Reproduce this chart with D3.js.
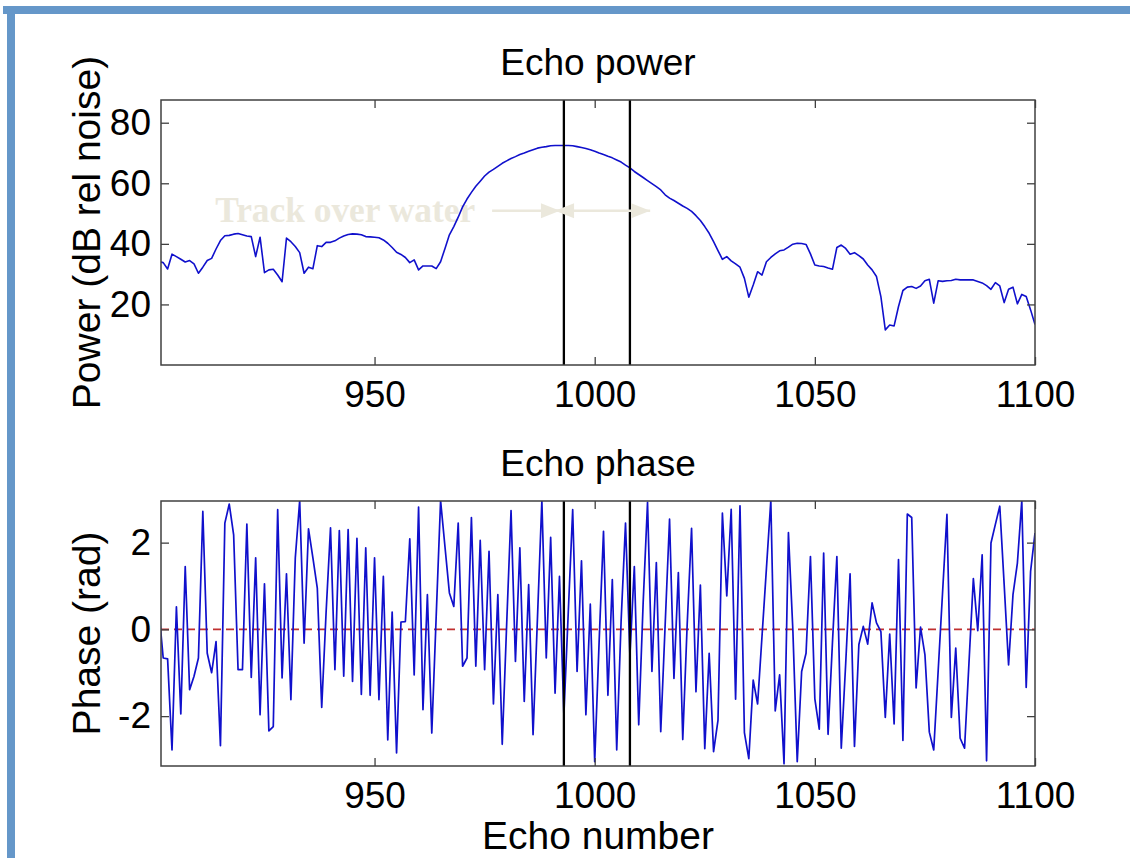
<!DOCTYPE html>
<html>
<head>
<meta charset="utf-8">
<script src="https://cdn.jsdelivr.net/npm/d3@7"></script>
<style>
  body { margin: 0; background: #fff; }
</style>
</head>
<body>
<script>

// echo numbers along x
const echoNumbers = d3.range(901, 1101)

// Echo power, dB relative to noise
const powerDb = [
  34.1, 33.8, 31.7, 36.6, 35.8, 34.9, 34.0, 34.5, 33.4, 30.3,
  32.3, 34.5, 35.2, 38.3, 41.1, 42.7, 42.8, 43.2, 43.4, 43.0,
  42.6, 42.4, 35.8, 42.2, 30.5, 31.4, 31.6, 29.7, 27.5, 41.9,
  40.7, 39.1, 37.1, 30.3, 32.3, 31.8, 39.4, 39.1, 40.5, 40.5,
  41.0, 41.9, 42.6, 43.1, 43.3, 43.2, 43.0, 42.4, 42.3, 42.2,
  42.0, 41.3, 40.2, 38.8, 37.2, 36.5, 35.5, 33.8, 34.7, 31.4,
  32.7, 32.7, 32.7, 31.8, 34.1, 38.5, 43.0, 45.7, 48.8, 52.2,
  54.8, 57.0, 59.0, 60.7, 62.4, 63.7, 64.6, 65.6, 66.6, 67.4,
  68.2, 68.8, 69.5, 70.0, 70.6, 71.1, 71.6, 71.9, 72.1, 72.4,
  72.5, 72.5, 72.5, 72.5, 72.4, 72.1, 71.8, 71.5, 71.1, 70.6,
  70.0, 69.5, 68.9, 68.4, 67.7, 67.0, 66.0, 65.1, 63.9, 62.9,
  61.9, 60.9, 59.9, 58.9, 57.8, 56.2, 55.1, 54.3, 53.4, 52.5,
  51.7, 50.7, 49.3, 47.7, 45.7, 43.5, 40.7, 37.8, 34.9, 35.8,
  34.4, 33.4, 32.3, 28.6, 22.4, 26.4, 30.8, 29.7, 34.1, 35.5,
  36.7, 37.7, 38.0, 38.9, 39.9, 40.2, 40.1, 39.8, 36.7, 33.0,
  32.7, 32.5, 32.0, 31.6, 38.8, 39.6, 38.5, 36.6, 37.1, 36.1,
  35.0, 33.0, 31.4, 29.2, 22.6, 11.6, 13.2, 12.9, 19.3, 24.6,
  25.7, 25.9, 25.3, 26.1, 27.8, 28.3, 20.4, 27.8, 27.6, 27.8,
  27.9, 28.3, 28.1, 28.1, 28.1, 28.1, 27.6, 27.1, 26.2, 25.0,
  27.2, 26.1, 20.6, 25.0, 25.7, 20.2, 23.3, 22.6, 18.2, 13.4
]

// Echo phase, rad
const phaseRad = [
  0.45, -0.66, -0.68, -2.78, 0.52, -1.95, 1.45, -1.39, -1.08, -0.66,
  2.72, -0.55, -1.0, -0.28, -2.68, 2.45, 2.89, 2.18, -0.93, -0.93,
  2.43, -1.11, 1.65, -1.97, 1.05, -2.34, -2.24, 2.76, -1.12, 1.28,
  -1.62, 1.65, 2.97, -0.32, 2.32, 1.65, 0.95, -1.8, 0.4, 2.34,
  -0.93, 2.28, -1.08, 2.3, -1.2, 2.1, -1.5, 1.88, -1.52, 1.65,
  -1.62, 1.22, -2.55, 0.4, -2.85, 0.17, 0.18, 2.09, -1.05, 2.82,
  -1.85, 0.8, -2.39, 0.3, 2.97, 1.9, 0.84, 0.53, 2.45, -0.85,
  -0.66, 2.58, -0.85, 2.05, -0.93, 1.8, -1.72, 0.8, -2.65, 0.1,
  2.74, -0.74, 1.88, -1.66, 1.03, -2.43, 0.26, 2.97, -0.66, 2.12,
  -1.47, 1.22, -1.97, 0.4, 2.76, -0.97, 1.58, -1.97, 0.58, -3.05,
  -0.3, 2.26, -1.52, 1.15, -2.78, 0.2, 2.45, -0.6, 1.45, -2.2,
  0.6, 2.93, -0.97, 1.54, -2.36, 0.1, 2.54, -1.13, 1.31, -2.54,
  0.1, 2.33, -1.44, 1.02, -2.75, -0.55, -2.82, -2.1, 2.68, 0.77,
  2.77, -1.61, 2.85, -2.38, -2.98, -1.17, -1.72, -0.16, 1.4, 2.97,
  -1.88, -1.05, -3.1, 2.23, 0, -3.05, -0.97, -0.55, 1.68, -1.6,
  -2.3, 1.76, -2.42, -0.3, 1.68, -2.74, -0.8, 1.28, -2.7, -0.35,
  0.07, -0.34, 0.61, 0.15, -0.05, -2.03, -0.11, -2.18, 1.61, -2.56,
  2.66, 2.58, -1.35, 0.05, -0.58, -2.37, -2.78, -0.97, 0.84, 2.65,
  -2.03, -0.43, -2.51, -2.74, -0.78, 1.17, -0.03, 1.72, -3.03, 1.99,
  2.42, 2.84, 1.03, -0.82, 0.8, 1.53, 2.97, -1.34, 1.34, 2.22
]

const markerEchoes = [993, 1008]
const xTicks = [950, 1000, 1050, 1100]
const powerTicks = [20, 40, 60, 80]
const phaseTicks = [-2, 0, 2]
const phaseRef = [0]

// annotation on the power panel
const trackLabel = 'Track over water'
const trackLabelAt = [913.8, 47.3]
const trackArrows = [
  { from: 976.7, to: 992.1, db: 50.9, heads: ['end'] },
  { from: 991.0, to: 1012.6, db: 50.9, heads: ['start', 'end'] }
]

const W = 1130, H = 858
const fs = 37      // ticks, titles
const fsLabel = 39 // axis labels
const sans = '"Liberation Sans", Arial, Helvetica, sans-serif'
const serif = '"Liberation Serif", "Times New Roman", serif'
const left = 161, right = 1035
const frameBlue = '#6597c9'
const lineBlue = '#1010cc'
const beige = '#ebe8dc'

let svg = d3.select('body').append('svg')
  .attr('width', W)
  .attr('height', H)
  .style('font-family', sans)

svg.append('rect').attr('width', W).attr('height', H).attr('fill', '#fff')

// slide border
svg.append('rect').attr('x', 3).attr('y', 6).attr('width', W - 3).attr('height', 8).attr('fill', frameBlue)
svg.append('rect').attr('x', 7).attr('y', 6).attr('width', 8).attr('height', H - 6).attr('fill', frameBlue)

let x = d3.scaleLinear().domain([901.5, 1100]).range([left, right])

function panel(top, bottom, y, values, yTicks, title, ylabel, id, lw) {
  let g = svg.append('g')

  g.append('clipPath').attr('id', id)
    .append('rect').attr('x', left).attr('y', top)
    .attr('width', right - left).attr('height', bottom - top)

  let body = g.append('g').attr('clip-path', `url(#${id})`)

  let line = d3.line()
    .x((d, i) => x(echoNumbers[i]))
    .y(d => y(d))

  return { g, body, draw: () => {
    body.append('path')
      .datum(values)
      .attr('d', line)
      .attr('fill', 'none')
      .attr('stroke', lineBlue)
      .attr('stroke-width', lw)
      .attr('stroke-linejoin', 'round')

    body.selectAll('.marker').data(markerEchoes).enter()
      .append('line')
      .attr('x1', d => x(d)).attr('x2', d => x(d))
      .attr('y1', top).attr('y2', bottom)
      .attr('stroke', '#000')
      .attr('stroke-width', 2.3)

    // axes: ticks point inwards on all four sides
    let fmt = d => String(d)
    g.append('g').attr('transform', `translate(0,${bottom})`)
      .call(d3.axisBottom(x).tickValues(xTicks).tickSizeInner(-8).tickSizeOuter(0).tickPadding(16).tickFormat(fmt))
    g.append('g').attr('transform', `translate(0,${top})`)
      .call(d3.axisTop(x).tickValues(xTicks).tickSizeInner(-8).tickSizeOuter(0).tickFormat(''))
    g.append('g').attr('transform', `translate(${left},0)`)
      .call(d3.axisLeft(y).tickValues(yTicks).tickSizeInner(-8).tickSizeOuter(0).tickPadding(10).tickFormat(fmt))
    g.append('g').attr('transform', `translate(${right},0)`)
      .call(d3.axisRight(y).tickValues(yTicks).tickSizeInner(-8).tickSizeOuter(0).tickFormat(''))

    g.selectAll('.domain').remove()
    g.selectAll('.tick line').attr('stroke', '#404040').attr('stroke-width', 1.3)
    g.selectAll('.tick text')
      .attr('fill', '#000')
      .attr('font-size', fs)
      .attr('font-family', sans)

    g.append('rect')
      .attr('x', left).attr('y', top)
      .attr('width', right - left).attr('height', bottom - top)
      .attr('fill', 'none')
      .attr('stroke', '#404040')
      .attr('stroke-width', 1.5)

    g.append('text')
      .attr('x', (left + right) / 2)
      .attr('y', top - 25)
      .attr('text-anchor', 'middle')
      .attr('font-size', fs)
      .text(title)

    g.append('text')
      .attr('transform', `translate(100,${(top + bottom) / 2}) rotate(-90)`)
      .attr('text-anchor', 'middle')
      .attr('font-size', fsLabel)
      .text(ylabel)
  }}
}

// ---- top: power
let yPow = d3.scaleLinear().domain([0, 87.5]).range([365, 100])
let p1 = panel(100, 365, yPow, powerDb, powerTicks, 'Echo power', 'Power (dB rel noise)', 'clipPow', 1.6)

// faded label sits under the trace
p1.body.append('text')
  .attr('x', x(trackLabelAt[0]))
  .attr('y', yPow(trackLabelAt[1]))
  .style('font-family', serif)
  .attr('font-weight', 'bold')
  .attr('font-size', 35)
  .attr('textLength', 260)
  .attr('lengthAdjust', 'spacingAndGlyphs')
  .attr('fill', beige)
  .text(trackLabel)

p1.draw()

let arrows = p1.g.append('g')
trackArrows.forEach(a => {
  let yy = yPow(a.db)
  arrows.append('line')
    .attr('x1', x(a.from)).attr('x2', x(a.to))
    .attr('y1', yy).attr('y2', yy)
    .attr('stroke', beige).attr('stroke-width', 2.5)
  a.heads.forEach(h => {
    let tip = h == 'end' ? x(a.to) : x(a.from)
    let dir = h == 'end' ? 1 : -1
    arrows.append('path')
      .attr('d', `M${tip},${yy} L${tip - dir * 19},${yy - 7.5} L${tip - dir * 19},${yy + 7.5} Z`)
      .attr('fill', beige)
  })
})

// ---- bottom: phase
let yPh = d3.scaleLinear().domain([-3.15, 2.96]).range([766, 501])
let p2 = panel(501, 766, yPh, phaseRad, phaseTicks, 'Echo phase', 'Phase (rad)', 'clipPh', 1.7)

p2.body.selectAll('.ref').data(phaseRef).enter()
  .append('line')
  .attr('x1', left).attr('x2', right)
  .attr('y1', d => yPh(d)).attr('y2', d => yPh(d))
  .attr('stroke', '#c03030')
  .attr('stroke-width', 1.6)
  .attr('stroke-dasharray', '8,5')

p2.draw()

svg.append('text')
  .attr('x', (left + right) / 2)
  .attr('y', 849)
  .attr('text-anchor', 'middle')
  .attr('font-size', fsLabel)
  .text('Echo number')

</script>
</body>
</html>
